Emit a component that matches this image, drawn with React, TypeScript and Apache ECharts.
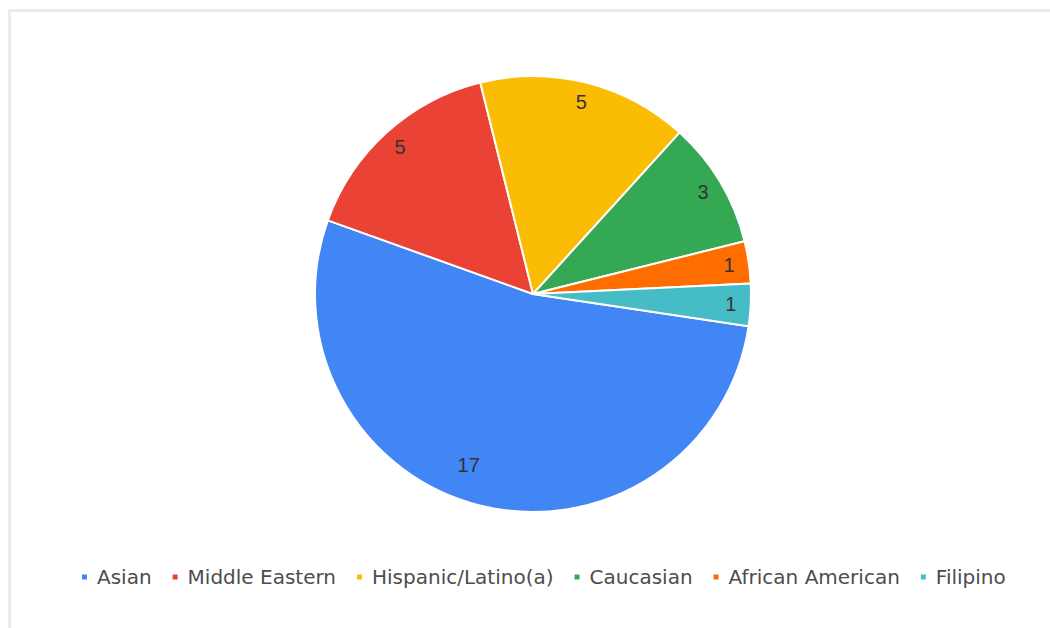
import React, { useEffect, useRef } from "react";
import * as echarts from "echarts";

const categories = ["Asian", "Middle Eastern", "Hispanic/Latino(a)", "Caucasian", "African American", "Filipino"];
const counts = [17, 5, 5, 3, 1, 1];
const colors = ["#4285F4", "#EA4335", "#FBBC04", "#34A853", "#FF6D01", "#46BDC6"];

export default function App() {
  const ref = useRef<HTMLDivElement>(null);
  useEffect(() => {
    if (!ref.current) return;
    const chart = echarts.init(ref.current, null, { renderer: "svg" });
    const data = categories.map((name, i) => ({ name, value: counts[i] }));
    const labelData = categories.map((name, i) =>
      i === 0
        ? { name, value: counts[i], label: { offset: [-16, -21] } }
        : { name, value: counts[i] }
    );
    const center = [533, 294];
    const R = 218;
    const start = -8.5;
    chart.setOption({
      animation: false,
      backgroundColor: "#ffffff",
      color: colors,
      graphic: [
        {
          type: "rect",
          shape: { x: 9.5, y: 10.5, width: 1200, height: 800 },
          style: { fill: "none", stroke: "#ececec", lineWidth: 3 },
          silent: true,
        },
      ],
      legend: {
        data: categories,
        left: 75,
        top: 562,
        itemGap: 19,
        itemWidth: 15,
        itemHeight: 7,
        icon: "path://M0,0h6v6h-6z",
        textStyle: { fontFamily: "DejaVu Sans", fontSize: 20, color: "#4d4d4d" },
        selectedMode: false,
      },
      series: [
        {
          type: "pie",
          center,
          radius: [0, R],
          startAngle: start,
          clockwise: true,
          data,
          label: { show: false },
          labelLine: { show: false },
          itemStyle: { borderColor: "#ffffff", borderWidth: 2 },
          emphasis: { disabled: true },
        },
        {
          type: "pie",
          center,
          radius: [R * 0.79, R],
          startAngle: start,
          clockwise: true,
          data: labelData,
          silent: true,
          itemStyle: { color: "transparent", borderWidth: 0 },
          label: {
            show: true,
            position: "inside",
            formatter: "{c}",
            fontFamily: "Liberation Sans",
            fontSize: 20,
            color: "#333333",
          },
          labelLine: { show: false },
          emphasis: { disabled: true },
        },
      ],
    });
    return () => chart.dispose();
  }, []);
  return <div ref={ref} style={{ position: "fixed", left: 0, top: 0, width: 1050, height: 628 }} />;
}
